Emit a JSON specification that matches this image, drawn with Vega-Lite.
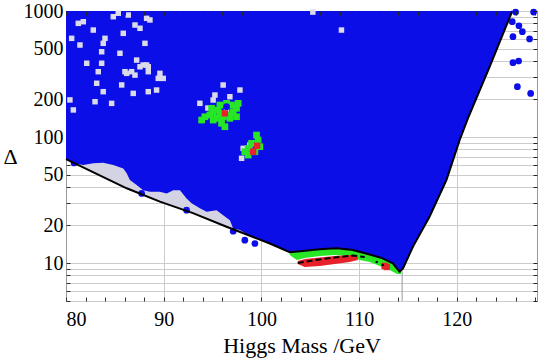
{
  "$schema": "https://vega.github.io/schema/vega-lite/v6.json",
  "width": 471,
  "height": 290,
  "autosize": {"type": "none"},
  "padding": {"left": 66, "top": 11, "right": 3, "bottom": 63},
  "background": "white",
  "config": {"view": {"stroke": "#9a9a9a", "strokeWidth": 1}, "font": "Liberation Serif"},
  "resolve": {"axis": {"x": "independent", "y": "independent"}},
  "datasets": {
    "line": [
      {"m": 80, "d": 66.8}, {"m": 86.21, "d": 39.2}, {"m": 89.61, "d": 30.7}, {"m": 92.99, "d": 24.9},
      {"m": 96.43, "d": 19.4}, {"m": 99.5, "d": 15.7}, {"m": 100.86, "d": 14.3}, {"m": 102.9, "d": 12.2},
      {"m": 104.26, "d": 12.45}, {"m": 105.97, "d": 12.85}, {"m": 107.68, "d": 13.1}, {"m": 109.35, "d": 12.7},
      {"m": 111.08, "d": 11.7}, {"m": 112.41, "d": 10.9}, {"m": 113.44, "d": 9.95}, {"m": 114.15, "d": 8.53},
      {"m": 114.49, "d": 9.08}, {"m": 115.51, "d": 13.5}, {"m": 117.2, "d": 23.3}, {"m": 118.93, "d": 45.6},
      {"m": 120.29, "d": 94.7}, {"m": 121.13, "d": 140.6}, {"m": 123.35, "d": 361}, {"m": 125.67, "d": 1000}
    ],
    "blue": [
      {"m": 80, "d": 66.8}, {"m": 80.75, "d": 61.8}, {"m": 81.77, "d": 59.9}, {"m": 82.79, "d": 61.8},
      {"m": 83.81, "d": 62.5}, {"m": 84.84, "d": 59.9}, {"m": 85.86, "d": 56.4}, {"m": 86.21, "d": 51.5},
      {"m": 86.54, "d": 45.6}, {"m": 87.23, "d": 41.6}, {"m": 87.9, "d": 37.9}, {"m": 88.59, "d": 36.8},
      {"m": 89.61, "d": 36.8}, {"m": 90.3, "d": 35.7}, {"m": 90.97, "d": 37.9}, {"m": 91.66, "d": 37.9},
      {"m": 92.34, "d": 32.6}, {"m": 92.85, "d": 29.8}, {"m": 93.7, "d": 27.2}, {"m": 94.39, "d": 25.5},
      {"m": 95.41, "d": 26.3}, {"m": 96.08, "d": 24.0}, {"m": 96.77, "d": 21.9}, {"m": 97.11, "d": 18.8},
      {"m": 97.79, "d": 18.3}, {"m": 98.81, "d": 16.4}, {"m": 99.5, "d": 15.7}, {"m": 100.86, "d": 14.3},
      {"m": 102.9, "d": 12.2}, {"m": 104.26, "d": 12.45}, {"m": 105.97, "d": 12.85}, {"m": 107.68, "d": 13.1},
      {"m": 109.35, "d": 12.7}, {"m": 111.08, "d": 11.7}, {"m": 112.41, "d": 10.9}, {"m": 113.44, "d": 9.95},
      {"m": 114.15, "d": 8.53}, {"m": 114.49, "d": 9.08}, {"m": 115.51, "d": 13.5}, {"m": 117.2, "d": 23.3},
      {"m": 118.93, "d": 45.6}, {"m": 120.29, "d": 94.7}, {"m": 121.13, "d": 140.6}, {"m": 123.35, "d": 361},
      {"m": 125.67, "d": 1000}
    ],
    "specks": [
      {"m": 86.37, "d": 929}, {"m": 84.84, "d": 901}, {"m": 81.77, "d": 822}, {"m": 82.79, "d": 706},
      {"m": 83.99, "d": 607}, {"m": 80.58, "d": 607}, {"m": 83.65, "d": 475}, {"m": 85.52, "d": 462},
      {"m": 82.12, "d": 385}, {"m": 86.72, "d": 330}, {"m": 89.44, "d": 292}, {"m": 87.9, "d": 373},
      {"m": 87.06, "d": 774}, {"m": 88.59, "d": 849}, {"m": 88.42, "d": 330}, {"m": 85.7, "d": 259},
      {"m": 89.27, "d": 236}, {"m": 83.3, "d": 330}, {"m": 89.61, "d": 320}, {"m": 86.21, "d": 320},
      {"m": 108.19, "d": 706}, {"m": 105.26, "d": 980}, {"m": 80.4, "d": 197},
      {"m": 83.65, "d": 385}, {"m": 87.06, "d": 310}, {"m": 88.25, "d": 373}, {"m": 89.95, "d": 292},
      {"m": 86.03, "d": 330}, {"m": 83.14, "d": 267}, {"m": 83.81, "d": 229}, {"m": 86.88, "d": 222},
      {"m": 80.75, "d": 164}, {"m": 82.97, "d": 190.6}, {"m": 84.67, "d": 185}, {"m": 88.42, "d": 229},
      {"m": 87.57, "d": 361}, {"m": 81.26, "d": 798}, {"m": 85.35, "d": 960}, {"m": 88.25, "d": 875},
      {"m": 87.57, "d": 729}, {"m": 83.81, "d": 554}, {"m": 88.08, "d": 554}, {"m": 85.86, "d": 665},
      {"m": 81.43, "d": 537}, {"m": 87.23, "d": 408}, {"m": 88.42, "d": 361},
      {"m": 95.06, "d": 196.7}, {"m": 96.08, "d": 258.7}, {"m": 95.24, "d": 215.4}, {"m": 97.8, "d": 236},
      {"m": 96.77, "d": 208.9}, {"m": 93.7, "d": 185.1}, {"m": 96.43, "d": 163.8}, {"m": 94.52, "d": 169.9},
      {"m": 98.81, "d": 86.4}, {"m": 98.13, "d": 81.3}, {"m": 97.97, "d": 67.8}
    ],
    "green": [
      {"m": 94.9, "d": 169}, {"m": 95.06, "d": 158.8}, {"m": 95.57, "d": 163.8}, {"m": 95.75, "d": 154.2},
      {"m": 94.72, "d": 149.5}, {"m": 94.21, "d": 144.9}, {"m": 93.88, "d": 136.4}, {"m": 95.06, "d": 136.4},
      {"m": 95.41, "d": 140.7}, {"m": 96.08, "d": 144.9}, {"m": 96.59, "d": 149.5}, {"m": 97.11, "d": 158.8},
      {"m": 97.45, "d": 169}, {"m": 97.62, "d": 185.1}, {"m": 96.94, "d": 179.5}, {"m": 95.92, "d": 128.5},
      {"m": 96.26, "d": 120.7}, {"m": 96.77, "d": 140.7}, {"m": 97.45, "d": 144.9}, {"m": 95.75, "d": 179.5},
      {"m": 96.43, "d": 185.1},
      {"m": 99.5, "d": 103.7}, {"m": 99.66, "d": 94.7}, {"m": 99.84, "d": 83.8}, {"m": 98.99, "d": 89.1},
      {"m": 98.64, "d": 81.3}, {"m": 98.3, "d": 76.4}, {"m": 98.64, "d": 71.9}, {"m": 99.33, "d": 76.4}
    ],
    "red": [
      {"m": 96.26, "d": 154.2}, {"m": 99.56, "d": 85.3}, {"m": 99.15, "d": 76.4},
      {"m": 112.82, "d": 9.3}, {"m": 112.6, "d": 9.5}
    ],
    "gband": [
      {"m": 102.9, "hi": 12.23, "lo": 11.57}, {"m": 103.62, "hi": 12.3, "lo": 10.56}, {"m": 104.44, "hi": 12.4, "lo": 10.96},
      {"m": 105.97, "hi": 12.75, "lo": 11.36}, {"m": 107.51, "hi": 12.95, "lo": 11.57}, {"m": 109.04, "hi": 12.7, "lo": 11.36},
      {"m": 110.06, "hi": 12.23, "lo": 10.56}, {"m": 111.08, "hi": 11.6, "lo": 10.18}, {"m": 112.11, "hi": 11.06, "lo": 9.467},
      {"m": 113.13, "hi": 10.18, "lo": 8.799}, {"m": 113.9, "hi": 9.0, "lo": 8.178}, {"m": 114.3, "hi": 8.6, "lo": 8.2}
    ],
    "rband": [
      {"m": 103.72, "hi": 10.37, "lo": 9.819}, {"m": 104.44, "hi": 10.76, "lo": 9.296}, {"m": 105.97, "hi": 11.06, "lo": 9.467},
      {"m": 107.51, "hi": 11.36, "lo": 9.819}, {"m": 109.04, "hi": 11.57, "lo": 10.18}, {"m": 109.86, "hi": 11.16, "lo": 10.56}
    ],
    "dash": [
      {"m": 103.72, "d": 10.0}, {"m": 105.46, "d": 10.56}, {"m": 107.51, "d": 11.06}, {"m": 109.35, "d": 11.47}, {"m": 110.57, "d": 11.16}
    ],
    "bdots": [
      {"m": 111.8, "d": 10.18}, {"m": 112.41, "d": 9.64}
    ],
    "edgedots": [
      {"m": 80.82, "d": 62.2}, {"m": 87.74, "d": 35.7}, {"m": 92.34, "d": 26.3}, {"m": 97.11, "d": 17.9},
      {"m": 98.3, "d": 15.2}, {"m": 99.33, "d": 14.3}, {"m": 96.43, "d": 174}
    ],
    "outdots": [
      {"m": 126.01, "d": 980}, {"m": 127.85, "d": 980}, {"m": 125.67, "d": 822}, {"m": 126.35, "d": 764},
      {"m": 126.7, "d": 685}, {"m": 125.74, "d": 625}, {"m": 127.44, "d": 600}, {"m": 125.74, "d": 389},
      {"m": 126.32, "d": 401}, {"m": 126.19, "d": 251}, {"m": 127.55, "d": 222}
    ],
    "lep": [{"m": 114.4, "lo": 5, "hi": 8.6}]
  },
  "layer": [
    {
      "data": {"name": "line"},
      "transform": [{"filter": "datum.m <= 101"}],
      "mark": {"type": "area", "color": "#d3d3e3"},
      "encoding": {
        "x": {"field": "m", "type": "quantitative",
          "scale": {"domain": [80, 128.2], "nice": false, "zero": false},
          "axis": {"orient": "bottom", "values": [80,82,84,86,88,90,92,94,96,98,100,102,104,106,108,110,112,114,116,118,120,122,124,126,128],
            "format": "d", "labelExpr": "datum.value % 10 === 0 ? datum.label : ''", "labelOverlap": false,
            "grid": true, "gridColor": "#cccccc", "gridOpacity": {"condition": {"test": "datum.value % 10 === 0 && datum.value > 80", "value": 1}, "value": 0},
            "domain": false, "tickSize": -4, "tickColor": "#333", "labelFont": "Liberation Serif", "labelFontSize": 20, "labelColor": "#000",
            "labelPadding": 12, "title": "Higgs Mass /GeV", "titleFont": "Liberation Serif", "titleFontSize": 22,
            "titleFontWeight": "normal", "titleColor": "#000", "titlePadding": 6}},
        "y": {"field": "d", "type": "quantitative",
          "scale": {"type": "log", "domain": [5, 1000], "nice": false},
          "axis": {"orient": "left", "values": [5,6,7,8,9,10,20,30,40,50,60,70,80,90,100,200,300,400,500,600,700,800,900,1000],
            "format": "d", "labelExpr": "indexof([10,20,50,100,200,500,1000], datum.value) >= 0 ? datum.label : ''", "labelOverlap": false,
            "grid": true, "gridColor": "#cccccc", "domain": false, "tickSize": -4, "tickColor": "#333",
            "labelFont": "Liberation Serif", "labelFontSize": 20, "labelColor": "#000", "labelPadding": 7,
            "title": "Δ", "titleAngle": 0, "titleAlign": "left", "titleBaseline": "middle", "titleX": -63, "titleY": 145,
            "titleFont": "Liberation Serif", "titleFontSize": 22, "titleFontWeight": "normal", "titleColor": "#000"}},
        "y2": {"datum": 1000}
      }
    },
    {
      "data": {"name": "blue"},
      "mark": {"type": "area", "color": "#0b0ee6"},
      "encoding": {
        "x": {"field": "m", "type": "quantitative", "axis": null},
        "y": {"field": "d", "type": "quantitative", "axis": null},
        "y2": {"datum": 1000}
      }
    },
    {
      "data": {"name": "specks"},
      "mark": {"type": "square", "color": "#dadaea", "filled": true, "opacity": 1, "size": 30},
      "encoding": {
        "x": {"field": "m", "type": "quantitative", "axis": null},
        "y": {"field": "d", "type": "quantitative", "axis": null}
      }
    },
    {
      "data": {"name": "green"},
      "mark": {"type": "square", "color": "#26e626", "filled": true, "opacity": 1, "size": 45},
      "encoding": {
        "x": {"field": "m", "type": "quantitative", "axis": null},
        "y": {"field": "d", "type": "quantitative", "axis": null}
      }
    },
    {
      "data": {"name": "gband"},
      "mark": {"type": "area", "color": "#26e626"},
      "encoding": {
        "x": {"field": "m", "type": "quantitative", "axis": null},
        "y": {"field": "lo", "type": "quantitative", "axis": null},
        "y2": {"field": "hi"}
      }
    },
    {
      "data": {"name": "rband"},
      "mark": {"type": "area", "color": "#e8202a"},
      "encoding": {
        "x": {"field": "m", "type": "quantitative", "axis": null},
        "y": {"field": "lo", "type": "quantitative", "axis": null},
        "y2": {"field": "hi"}
      }
    },
    {
      "data": {"name": "red"},
      "mark": {"type": "square", "color": "#e8202a", "filled": true, "opacity": 1, "size": 40},
      "encoding": {
        "x": {"field": "m", "type": "quantitative", "axis": null},
        "y": {"field": "d", "type": "quantitative", "axis": null}
      }
    },
    {
      "data": {"name": "edgedots"},
      "mark": {"type": "circle", "color": "#0b0ee6", "opacity": 1, "size": 45},
      "encoding": {
        "x": {"field": "m", "type": "quantitative", "axis": null},
        "y": {"field": "d", "type": "quantitative", "axis": null}
      }
    },
    {
      "data": {"name": "line"},
      "mark": {"type": "line", "color": "#000", "strokeWidth": 2},
      "encoding": {
        "x": {"field": "m", "type": "quantitative", "axis": null},
        "y": {"field": "d", "type": "quantitative", "axis": null}
      }
    },
    {
      "data": {"name": "dash"},
      "mark": {"type": "line", "color": "#000", "strokeWidth": 2, "strokeDash": [6, 3]},
      "encoding": {
        "x": {"field": "m", "type": "quantitative", "axis": null},
        "y": {"field": "d", "type": "quantitative", "axis": null}
      }
    },
    {
      "data": {"name": "bdots"},
      "mark": {"type": "circle", "color": "#000", "opacity": 1, "size": 6},
      "encoding": {
        "x": {"field": "m", "type": "quantitative", "axis": null},
        "y": {"field": "d", "type": "quantitative", "axis": null}
      }
    },
    {
      "data": {"name": "lep"},
      "mark": {"type": "rule", "color": "#999", "strokeWidth": 1},
      "encoding": {
        "x": {"field": "m", "type": "quantitative", "axis": null},
        "y": {"field": "lo", "type": "quantitative", "axis": null},
        "y2": {"field": "hi"}
      }
    },
    {
      "data": {"name": "outdots"},
      "mark": {"type": "circle", "color": "#0b0ee6", "opacity": 1, "size": 45},
      "encoding": {
        "x": {"field": "m", "type": "quantitative",
          "axis": {"orient": "top", "values": [80,82,84,86,88,90,92,94,96,98,100,102,104,106,108,110,112,114,116,118,120,122,124,126,128],
            "labels": false, "grid": false, "domain": false, "tickSize": -4, "tickColor": "#222", "title": null, "zindex": 1}},
        "y": {"field": "d", "type": "quantitative",
          "axis": {"orient": "right", "values": [5,6,7,8,9,10,20,30,40,50,60,70,80,90,100,200,300,400,500,600,700,800,900,1000],
            "labels": false, "grid": false, "domain": false, "tickSize": -4, "tickColor": "#222", "title": null, "zindex": 1}}
      }
    }
  ]
}
